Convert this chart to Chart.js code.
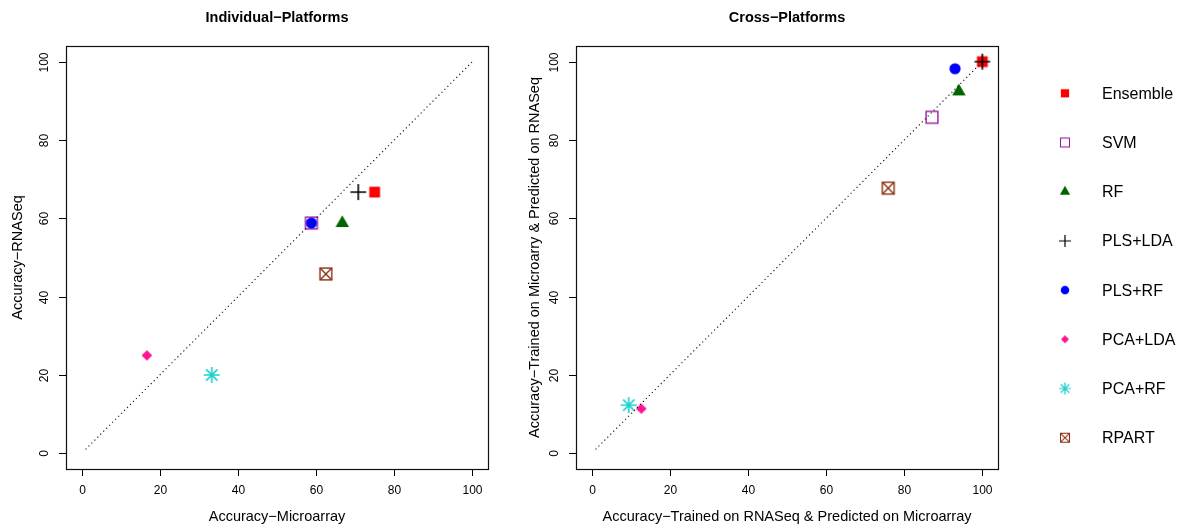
<!DOCTYPE html>
<html>
<head>
<meta charset="utf-8">
<script src="https://cdn.jsdelivr.net/npm/chart.js@4.4.0/dist/chart.umd.min.js"></script>
<style>
  body { margin: 0; background: #fff; }
  #wrap { position: relative; width: 1177px; height: 525px; overflow: hidden; }
  canvas { position: absolute; top: 0; }
</style>
</head>
<body>
<div id="wrap">
  <canvas id="plotIndividual" width="500" height="525" style="left:0px"></canvas>
  <canvas id="plotCross" width="520" height="525" style="left:500px"></canvas>
  <canvas id="plotLegend" width="147" height="525" style="left:1030px"></canvas>
</div>
<script>
// methods, in legend / plotting order
const methods = ['Ensemble', 'SVM', 'RF', 'PLS+LDA', 'PLS+RF', 'PCA+LDA', 'PCA+RF', 'RPART'];
const methodColors = ['#ff0000', '#9c1a9c', '#006400', '#000000', '#0000ff', '#ff1493', '#1fd0d0', '#8b3312'];
const methodShapes = ['square', 'openSquare', 'triangle', 'plus', 'circle', 'diamond', 'asterisk', 'boxX'];

// Individual platforms
const indivMicroarray = [75.0, 58.8, 66.7, 70.8, 58.8, 16.7, 33.3, 62.5];
const indivRNASeq = [66.7, 58.8, 58.8, 66.7, 58.8, 25.0, 20.0, 45.8];

// Cross platforms
const crossRnaToMicro = [100, 87.1, 94.0, 100, 93.0, 12.7, 9.5, 75.9];
const crossMicroToRna = [100, 85.8, 92.4, 100, 98.2, 11.4, 12.3, 67.7];

// identity reference line
const diagX = [1, 100];
const diagY = [1, 100];

const axisTicks = [0, 20, 40, 60, 80, 100];
const FONT = '"Liberation Sans", Arial, Helvetica, sans-serif';

// draw R-like plotting symbols into small canvases
function makeMarker(shape, color, s) {
  const size = Math.ceil(20 * s) + 2;
  const c = document.createElement('canvas');
  c.width = size; c.height = size;
  const g = c.getContext('2d');
  const m = size / 2;
  g.fillStyle = color;
  g.strokeStyle = color;
  if (shape === 'square') {
    const h = 5.4 * s;
    g.fillRect(m - h, m - h, 2 * h, 2 * h);
  } else if (shape === 'openSquare' || shape === 'boxX') {
    const h = 5.9 * s;
    g.lineWidth = 1.4 * s;
    g.strokeRect(m - h, m - h, 2 * h, 2 * h);
    if (shape === 'boxX') {
      g.beginPath();
      g.moveTo(m - h, m - h); g.lineTo(m + h, m + h);
      g.moveTo(m + h, m - h); g.lineTo(m - h, m + h);
      g.stroke();
    }
  } else if (shape === 'triangle') {
    const r = 7.8 * s;
    g.beginPath();
    g.moveTo(m, m - r);
    g.lineTo(m + r * Math.sqrt(3) / 2, m + r / 2);
    g.lineTo(m - r * Math.sqrt(3) / 2, m + r / 2);
    g.closePath();
    g.fill();
  } else if (shape === 'plus' || shape === 'asterisk') {
    const r = (shape === 'plus' ? 7.9 : 8.0) * s;
    g.lineWidth = 1.6 * s;
    g.beginPath();
    g.moveTo(m - r, m); g.lineTo(m + r, m);
    g.moveTo(m, m - r); g.lineTo(m, m + r);
    if (shape === 'asterisk') {
      const d = r / Math.SQRT2;
      g.moveTo(m - d, m - d); g.lineTo(m + d, m + d);
      g.moveTo(m + d, m - d); g.lineTo(m - d, m + d);
    }
    g.stroke();
  } else if (shape === 'circle') {
    g.beginPath();
    g.arc(m, m, 5.6 * s, 0, 2 * Math.PI);
    g.fill();
  } else if (shape === 'diamond') {
    const r = 5.3 * s;
    g.beginPath();
    g.moveTo(m, m - r); g.lineTo(m + r, m); g.lineTo(m, m + r); g.lineTo(m - r, m);
    g.closePath();
    g.fill();
  }
  return c;
}

const plotMarkers = methods.map((_, i) => makeMarker(methodShapes[i], methodColors[i], 1));
const legendMarkers = methods.map((_, i) => makeMarker(methodShapes[i], methodColors[i], 0.76));

// base-graphics style frame, ticks and labels
const rAxesPlugin = {
  id: 'rAxes',
  afterDraw(chart, args, opts) {
    const ctx = chart.ctx;
    const a = chart.chartArea;
    const xs = chart.scales.x, ys = chart.scales.y;
    ctx.save();
    ctx.strokeStyle = '#111';
    ctx.lineWidth = 1.2;
    ctx.strokeRect(Math.round(a.left) + 0.5, Math.round(a.top) + 0.5,
      Math.round(a.right - a.left), Math.round(a.bottom - a.top));
    ctx.lineWidth = 1;
    ctx.strokeStyle = '#000';
    ctx.fillStyle = '#000';
    ctx.font = '12px ' + FONT;
    ctx.textAlign = 'center';
    ctx.textBaseline = 'middle';
    axisTicks.forEach(t => {
      const px = Math.round(xs.getPixelForValue(t)) + 0.5;
      ctx.beginPath();
      ctx.moveTo(px, a.bottom); ctx.lineTo(px, a.bottom + 7);
      ctx.stroke();
      ctx.fillText(String(t), px, a.bottom + 22);
      const py = Math.round(ys.getPixelForValue(t)) + 0.5;
      ctx.beginPath();
      ctx.moveTo(a.left, py); ctx.lineTo(a.left - 7, py);
      ctx.stroke();
      ctx.save();
      ctx.translate(a.left - 21, py);
      ctx.rotate(-Math.PI / 2);
      ctx.fillText(String(t), 0, 0);
      ctx.restore();
    });
    const cx = (a.left + a.right) / 2, cy = (a.top + a.bottom) / 2;
    ctx.font = 'bold 14.5px ' + FONT;
    ctx.fillText(opts.title, cx, 18);
    ctx.font = '14.5px ' + FONT;
    ctx.fillText(opts.xTitle, cx, a.bottom + 48);
    ctx.save();
    ctx.translate(a.left - opts.yTitleOffset, cy);
    ctx.rotate(-Math.PI / 2);
    ctx.fillText(opts.yTitle, 0, 0);
    ctx.restore();
    ctx.restore();
  }
};

function makePlot(id, xVals, yVals, padding, labels) {
  return new Chart(document.getElementById(id).getContext('2d'), {
    type: 'scatter',
    data: {
      datasets: [{
        type: 'line',
        data: diagX.map((x, i) => ({ x: x, y: diagY[i] })),
        borderColor: '#111111',
        borderWidth: 1.1,
        borderDash: [1.2, 3],
        pointRadius: 0,
        fill: false
      }, {
        data: xVals.map((x, i) => ({ x: x, y: yVals[i] })),
        pointStyle: plotMarkers,
        pointRadius: 8,
        clip: false
      }]
    },
    options: {
      responsive: false,
      maintainAspectRatio: false,
      animation: false,
      events: [],
      layout: { padding: padding },
      scales: {
        x: { type: 'linear', min: -4, max: 104, display: false },
        y: { type: 'linear', min: -4, max: 104, display: false }
      },
      plugins: {
        legend: { display: false },
        tooltip: { enabled: false },
        rAxes: labels
      }
    },
    plugins: [rAxesPlugin]
  });
}

const chartIndividual = makePlot('plotIndividual', indivMicroarray, indivRNASeq,
  { left: 66, right: 12, top: 46, bottom: 56 },
  { title: 'Individual\u2212Platforms', xTitle: 'Accuracy\u2212Microarray',
    yTitle: 'Accuracy\u2212RNASeq', yTitleOffset: 48 });

const chartCross = makePlot('plotCross', crossRnaToMicro, crossMicroToRna,
  { left: 76, right: 22, top: 46, bottom: 56 },
  { title: 'Cross\u2212Platforms',
    xTitle: 'Accuracy\u2212Trained on RNASeq & Predicted on Microarray',
    yTitle: 'Accuracy\u2212Trained on Microarry & Predicted on RNASeq', yTitleOffset: 41 });

// legend: markers placed by the library, labels drawn next to them
const legendLabelsPlugin = {
  id: 'legendLabels',
  afterDraw(chart) {
    const ctx = chart.ctx;
    const xs = chart.scales.x, ys = chart.scales.y;
    ctx.save();
    ctx.fillStyle = '#000';
    ctx.font = '16px ' + FONT;
    ctx.textAlign = 'left';
    ctx.textBaseline = 'middle';
    methods.forEach((m, i) => {
      ctx.fillText(m, xs.getPixelForValue(0) + 37, ys.getPixelForValue(i) + 1);
    });
    ctx.restore();
  }
};

const chartLegend = new Chart(document.getElementById('plotLegend').getContext('2d'), {
  type: 'scatter',
  data: {
    datasets: [{
      data: methods.map((m, i) => ({ x: 0, y: i })),
      pointStyle: legendMarkers,
      pointRadius: 6,
      clip: false
    }]
  },
  options: {
    responsive: false,
    maintainAspectRatio: false,
    animation: false,
    events: [],
    layout: { padding: { left: 35, right: 0, top: 93.3, bottom: 87.3 } },
    scales: {
      x: { type: 'linear', min: 0, max: 1, display: false },
      y: { type: 'linear', min: 0, max: methods.length - 1, reverse: true, display: false }
    },
    plugins: { legend: { display: false }, tooltip: { enabled: false } }
  },
  plugins: [legendLabelsPlugin]
});
</script>
</body>
</html>
